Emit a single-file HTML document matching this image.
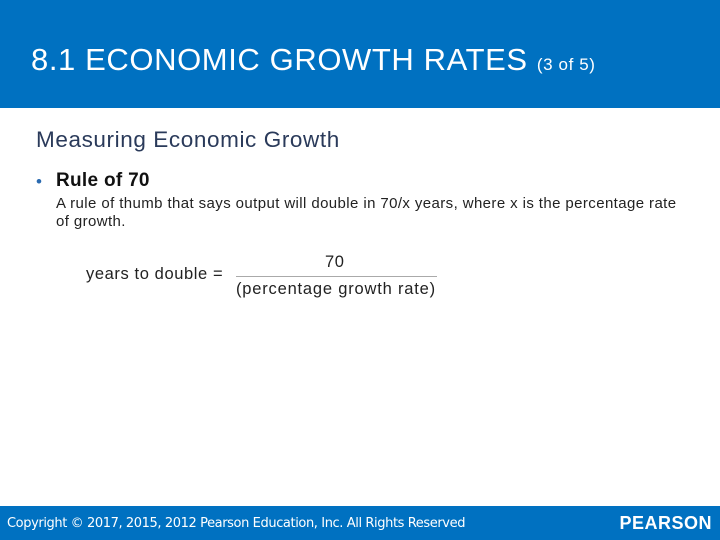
<!DOCTYPE html>
<html><head><meta charset="utf-8"><style>
*{margin:0;padding:0;box-sizing:border-box}
body{width:720px;height:540px;position:relative;background:#fff;font-family:"Liberation Sans",sans-serif;overflow:hidden}
.hdr{position:absolute;left:0;top:0;width:720px;height:108px;background:#0071c1}
.title{position:absolute;left:31px;top:42px;color:#fff;font-size:31px;white-space:nowrap;letter-spacing:0.6px}
.title small{font-size:17px;letter-spacing:0.6px}
.sub{position:absolute;left:36px;top:127px;font-size:22.5px;color:#2a3a5a;letter-spacing:0.6px}
.dot{position:absolute;left:36px;top:172px;font-size:17px;color:#2a6ab0}
.bul{position:absolute;left:56px;top:170px;font-size:19px;font-weight:bold;color:#111;letter-spacing:0.3px}
.desc{position:absolute;left:56px;top:195px;width:634px;font-size:15px;line-height:18px;color:#222;letter-spacing:0.4px}
.f{position:absolute;font-size:16.5px;color:#222;letter-spacing:0.6px;white-space:nowrap}
.line{position:absolute;left:236px;top:276px;width:201px;height:1px;background:#aaa}
.ftr{position:absolute;left:0;top:506px;width:720px;height:34px;background:#0071c1}
.copy{position:absolute;left:7px;top:10px;color:#fff;font-size:13px;font-family:"DejaVu Sans","Liberation Sans",sans-serif;letter-spacing:-0.4px}
.logo{position:absolute;right:8px;top:7px;color:#fff;font-size:18px;font-weight:bold;letter-spacing:0.5px}
</style></head><body>
<div class="hdr">
<div class="title">8.1 ECONOMIC GROWTH RATES <small>(3 of 5)</small></div>
</div>
<div class="sub">Measuring Economic Growth</div>
<div class="dot">•</div>
<div class="bul">Rule of 70</div>
<div class="desc">A rule of thumb that says output will double in 70/x years, where x is the percentage rate of growth.</div>
<div class="f" style="left:86px;top:265px">years to double =</div>
<div class="f" style="left:325px;top:253px">70</div>
<div class="line"></div>
<div class="f" style="left:236px;top:280px;letter-spacing:0.8px">(percentage growth rate)</div>
<div class="ftr">
<div class="copy">Copyright © 2017, 2015, 2012 Pearson Education, Inc. All Rights Reserved</div>
<div class="logo">PEARSON</div>
</div>
</body></html>
